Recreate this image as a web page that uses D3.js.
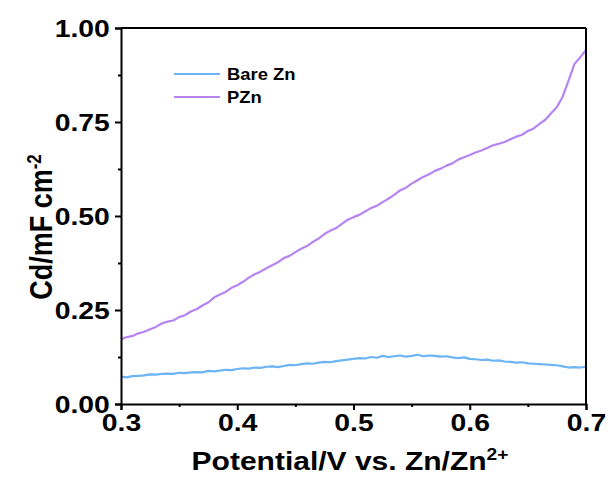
<!DOCTYPE html>
<html>
<head>
<meta charset="utf-8">
<script src="https://cdn.jsdelivr.net/npm/d3@7/dist/d3.min.js"></script>
<style>
  html, body { margin: 0; padding: 0; background: #fff; }
  svg { display: block; font-family: "Liberation Sans", Arial, sans-serif; }
</style>
</head>
<body>
<svg id="chart" width="611" height="480"></svg>
<script>
// Potential (V vs. Zn/Zn2+), sampled every 5 mV
const potential = d3.range(0, 81).map(i => +(0.3 + i * 0.005).toFixed(3));

// Double-layer capacitance, mF cm^-2
const bareZn = [
  0.073, 0.071, 0.074, 0.075, 0.076, 0.079, 0.078, 0.080, 0.081, 0.080,
  0.083, 0.082, 0.084, 0.085, 0.084, 0.088, 0.087, 0.089, 0.091, 0.090,
  0.093, 0.095, 0.094, 0.097, 0.096, 0.099, 0.100, 0.098, 0.101, 0.104,
  0.103, 0.106, 0.108, 0.107, 0.110, 0.112, 0.111, 0.114, 0.116, 0.118,
  0.120, 0.122, 0.121, 0.125, 0.123, 0.128, 0.125, 0.127, 0.129, 0.126,
  0.128, 0.131, 0.127, 0.129, 0.128, 0.126, 0.127, 0.124, 0.122, 0.124,
  0.120, 0.119, 0.117, 0.118, 0.115, 0.116, 0.113, 0.112, 0.110, 0.111,
  0.108, 0.107, 0.106, 0.105, 0.104, 0.103, 0.100, 0.097, 0.098, 0.097,
  0.099
];
const pZn = [
  0.172, 0.178, 0.181, 0.188, 0.192, 0.199, 0.205, 0.214, 0.219, 0.222,
  0.231, 0.236, 0.246, 0.252, 0.262, 0.270, 0.283, 0.291, 0.298, 0.309,
  0.316, 0.325, 0.336, 0.345, 0.352, 0.361, 0.369, 0.377, 0.388, 0.394,
  0.404, 0.413, 0.420, 0.431, 0.440, 0.452, 0.461, 0.468, 0.479, 0.490,
  0.497, 0.503, 0.512, 0.521, 0.527, 0.537, 0.546, 0.556, 0.568, 0.575,
  0.586, 0.595, 0.604, 0.611, 0.620, 0.626, 0.634, 0.640, 0.650, 0.656,
  0.662, 0.669, 0.674, 0.681, 0.688, 0.692, 0.697, 0.704, 0.711, 0.716,
  0.726, 0.733, 0.745, 0.756, 0.773, 0.790, 0.818, 0.860, 0.904, 0.922,
  0.942
];

const seriesNames = ["Bare Zn", "PZn"];
const seriesColors = ["#6cb4f6", "#b585f2"];
const xTicks = [0.3, 0.4, 0.5, 0.6, 0.7];
const yTicks = [0, 0.25, 0.5, 0.75, 1.0];

const svg = d3.select("#chart");
const m = { left: 121, right: 586, top: 28, bottom: 404 };
const wide = 1.18; // horizontal widening of the bold lettering

const x = d3.scaleLinear().domain([0.3, 0.7]).range([m.left, m.right]);
const y = d3.scaleLinear().domain([0, 1]).range([m.bottom, m.top]);

// Curves
const series = [bareZn, pZn];
const line = d3.line().x(d => x(d[0])).y(d => y(d[1]));
series.forEach((vals, i) => {
  svg.append("path")
    .datum(potential.map((p, j) => [p, vals[j]]))
    .attr("fill", "none")
    .attr("stroke", seriesColors[i])
    .attr("stroke-width", 2.2)
    .attr("stroke-linejoin", "round")
    .attr("d", line);
});

// Axes
const fmtX = d3.format(".1f");
const fmtY = d3.format(".2f");
const xMinor = d3.range(0.35, 0.7, 0.1);
const yMinor = [0.125, 0.375, 0.625, 0.875];

const gx = svg.append("g").attr("transform", `translate(0,${m.bottom})`);
gx.call(d3.axisBottom(x).tickValues(xTicks).tickFormat(fmtX).tickSize(6));
gx.append("g").call(d3.axisBottom(x).tickValues(xMinor).tickFormat("").tickSize(3))
  .select(".domain").remove();

const gy = svg.append("g").attr("transform", `translate(${m.left},0)`);
gy.call(d3.axisLeft(y).tickValues(yTicks).tickFormat(fmtY).tickSize(6));
gy.append("g").call(d3.axisLeft(y).tickValues(yMinor).tickFormat("").tickSize(3))
  .select(".domain").remove();

[gx, gy].forEach(g => {
  g.selectAll(".domain").attr("stroke", "#000").attr("stroke-width", 2);
  g.selectAll(".tick line").attr("stroke", "#000").attr("stroke-width", 2);
  g.selectAll(".tick text")
    .attr("fill", "#000")
    .style("font-size", "24px")
    .style("font-weight", "bold")
    .attr("transform", `scale(${wide},1)`);
});
gx.selectAll(".tick text").attr("y", 27).attr("dy", 0);
gy.selectAll(".tick text").attr("x", -9.5).attr("dy", "0.36em");

// Frame top and right
svg.append("line").attr("x1", m.left).attr("x2", m.right).attr("y1", m.top).attr("y2", m.top)
  .attr("stroke", "#000").attr("stroke-width", 2);
svg.append("line").attr("x1", m.right).attr("x2", m.right).attr("y1", m.top).attr("y2", m.bottom)
  .attr("stroke", "#000").attr("stroke-width", 2);

// Axis titles
const xt = svg.append("text")
  .attr("transform", `translate(350,470) scale(1.2,1)`)
  .attr("text-anchor", "middle")
  .style("font-size", "25px").style("font-weight", "bold");
xt.append("tspan").text("Potential/V vs. Zn/Zn");
xt.append("tspan").attr("dy", -10).style("font-size", "16px").text("2+");

const yt = svg.append("text")
  .attr("transform", `translate(52,227) rotate(-90) scale(1,1.15)`)
  .attr("text-anchor", "middle")
  .style("font-size", "27px").style("font-weight", "bold");
yt.append("tspan").text("Cd/mF cm");
yt.append("tspan").attr("dy", -10).style("font-size", "17px").text("-2");

// Legend
const legend = svg.append("g");
seriesNames.forEach((name, i) => {
  const ly = 74 + i * 23;
  legend.append("line")
    .attr("x1", 174).attr("x2", 220).attr("y1", ly).attr("y2", ly)
    .attr("stroke", seriesColors[i]).attr("stroke-width", 2.2);
  legend.append("text")
    .attr("transform", `translate(227,${ly}) scale(1.15,1)`)
    .attr("dy", "0.36em")
    .style("font-size", "16px").style("font-weight", "bold")
    .text(name);
});
</script>
</body>
</html>
